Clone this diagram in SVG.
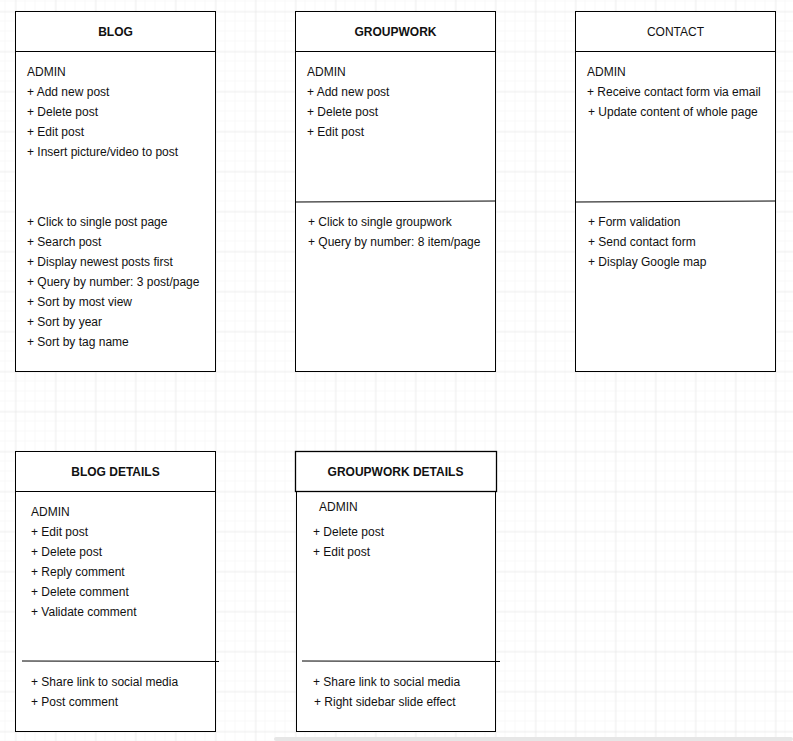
<svg xmlns="http://www.w3.org/2000/svg" width="793" height="741" viewBox="0 0 793 741">
<defs>
<pattern id="minor" x="5.5" y="1.5" width="10" height="10" patternUnits="userSpaceOnUse">
<path d="M10 0V10M0 10H10" fill="none" stroke="#f3f3f3" stroke-width="1"/>
</pattern>
<pattern id="major" x="15.5" y="11.5" width="40" height="40" patternUnits="userSpaceOnUse">
<path d="M0 0V40M0 0H40" fill="none" stroke="#e4e4e4" stroke-width="1"/>
</pattern>
</defs>
<style>
.box{fill:#fff;stroke:#000;stroke-width:1}
.ln{stroke:#000;stroke-width:1;fill:none}
.t{font-family:"Liberation Sans",Arial,sans-serif;font-size:12px;fill:#111}
.h{font-family:"Liberation Sans",Arial,sans-serif;font-size:12px;fill:#111;text-anchor:middle;font-weight:bold}
</style>
<rect width="793" height="741" fill="#fff"/>
<rect width="793" height="741" fill="url(#minor)"/>
<rect width="793" height="741" fill="url(#major)"/>

<g id="blog">
<rect class="box" x="15.5" y="11.5" width="200" height="360"/>
<line class="ln" x1="15.5" y1="51.5" x2="215.5" y2="51.5"/>
<text class="h" x="115.5" y="35.5">BLOG</text>
<text class="t" x="27" y="75.5">ADMIN</text>
<text class="t" x="27" y="95.5">+ Add new post</text>
<text class="t" x="27" y="115.5">+ Delete post</text>
<text class="t" x="27" y="135.5">+ Edit post</text>
<text class="t" x="27" y="155.5">+ Insert picture/video to post</text>
<text class="t" x="27" y="225.5">+ Click to single post page</text>
<text class="t" x="27" y="245.5">+ Search post</text>
<text class="t" x="27" y="265.5">+ Display newest posts first</text>
<text class="t" x="27" y="285.5">+ Query by number: 3 post/page</text>
<text class="t" x="27" y="305.5">+ Sort by most view</text>
<text class="t" x="27" y="325.5">+ Sort by year</text>
<text class="t" x="27" y="345.5">+ Sort by tag name</text>
</g>

<g id="groupwork">
<rect class="box" x="295.5" y="11.5" width="200" height="360"/>
<line class="ln" x1="295.5" y1="51.5" x2="495.5" y2="51.5"/>
<line class="ln" x1="295.5" y1="202" x2="495.5" y2="201"/>
<text class="h" x="395.5" y="35.5">GROUPWORK</text>
<text class="t" x="307" y="75.5">ADMIN</text>
<text class="t" x="307" y="95.5">+ Add new post</text>
<text class="t" x="307" y="115.5">+ Delete post</text>
<text class="t" x="307" y="135.5">+ Edit post</text>
<text class="t" x="308" y="225.5">+ Click to single groupwork</text>
<text class="t" x="308" y="245.5">+ Query by number: 8 item/page</text>
</g>

<g id="contact">
<rect class="box" x="575.5" y="11.5" width="200" height="360"/>
<line class="ln" x1="575.5" y1="51.5" x2="775.5" y2="51.5"/>
<line class="ln" x1="575.5" y1="202" x2="775.5" y2="201"/>
<text class="h" x="675.5" y="35.5" font-weight="normal" style="font-weight:normal">CONTACT</text>
<text class="t" x="587" y="75.5">ADMIN</text>
<text class="t" x="587" y="95.5">+ Receive contact form via email</text>
<text class="t" x="588" y="115.5">+ Update content of whole page</text>
<text class="t" x="588" y="225.5">+ Form validation</text>
<text class="t" x="588" y="245.5">+ Send contact form</text>
<text class="t" x="588" y="265.5">+ Display Google map</text>
</g>

<g id="blog-details">
<rect class="box" x="15.5" y="451.5" width="200" height="280"/>
<line class="ln" x1="15.5" y1="491.5" x2="215.5" y2="491.5"/>
<line class="ln" x1="22" y1="661" x2="219" y2="661.5"/>
<text class="h" x="115.5" y="475.5">BLOG DETAILS</text>
<text class="t" x="31" y="515.5">ADMIN</text>
<text class="t" x="31" y="535.5">+ Edit post</text>
<text class="t" x="31" y="555.5">+ Delete post</text>
<text class="t" x="31" y="575.5">+ Reply comment</text>
<text class="t" x="31" y="595.5">+ Delete comment</text>
<text class="t" x="31" y="615.5">+ Validate comment</text>
<text class="t" x="31" y="685.5">+ Share link to social media</text>
<text class="t" x="31" y="705.5">+ Post comment</text>
</g>

<g id="groupwork-details">
<rect class="box" x="296.5" y="491.5" width="199" height="240"/>
<rect class="box" x="295.5" y="451.5" width="201" height="40" style="stroke-width:1.3"/>
<line class="ln" x1="302" y1="661" x2="500" y2="661.5"/>
<text class="h" x="395.5" y="475.5">GROUPWORK DETAILS</text>
<text class="t" x="319" y="510.5">ADMIN</text>
<text class="t" x="313" y="535.5">+ Delete post</text>
<text class="t" x="313" y="555.5">+ Edit post</text>
<text class="t" x="313" y="685.5">+ Share link to social media</text>
<text class="t" x="314" y="705.5">+ Right sidebar slide effect</text>
</g>

<g id="connectors"></g>

<rect x="274" y="737" width="519" height="4" rx="2" fill="#e6e6e6"/>
</svg>
